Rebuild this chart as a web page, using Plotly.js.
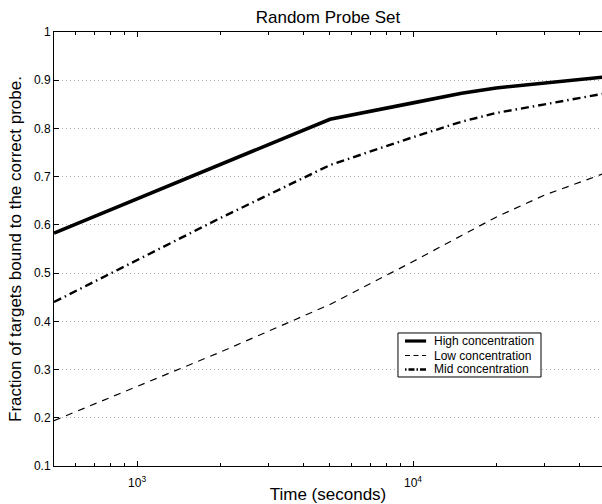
<!DOCTYPE html>
<html>
<head>
<meta charset="utf-8">
<script src="https://cdn.plot.ly/plotly-3.0.1.min.js"></script>
<style>
  html, body { margin: 0; padding: 0; background: #fff; overflow: hidden; }
  #chart { width: 602px; height: 504px; }
</style>
</head>
<body>
<div id="chart"></div>
<script>
// ---- data ----
const timeSeconds = [500, 1000, 2000, 5000, 10000, 15000, 20000, 30000, 50000];
const highConcentration = [0.583, 0.654, 0.725, 0.819, 0.853, 0.873, 0.884, 0.895, 0.907];
const lowConcentration  = [0.194, 0.265, 0.336, 0.435, 0.524, 0.578, 0.616, 0.662, 0.708];
const midConcentration  = [0.440, 0.527, 0.614, 0.724, 0.782, 0.814, 0.832, 0.850, 0.873];
const seriesNames = ["High concentration", "Low concentration", "Mid concentration"];
const yTickValues = [0.1, 0.2, 0.3, 0.4, 0.5, 0.6, 0.7, 0.8, 0.9, 1];
const yTickLabels = ["0.1", "0.2", "0.3", "0.4", "0.5", "0.6", "0.7", "0.8", "0.9", "1"];
const xTickValues = [1000, 10000];
const xTickLabels = ["10<sup>3</sup>", "10<sup>4</sup>"];
const xMinorTicks = [600, 700, 800, 900, 2000, 3000, 4000, 5000, 6000, 7000, 8000, 9000, 20000, 30000, 40000];

// ---- styles ----
const FONT = "Liberation Sans, Arial, Helvetica, sans-serif";
const styles = [
  {color: "#000", width: 3.6, dash: "solid"},
  {color: "#000", width: 1.2, dash: "7px,6px"},
  {color: "#000", width: 2.4, dash: "8px,4px,1.5px,4px"}
];
const seriesValues = [highConcentration, lowConcentration, midConcentration];

const traces = seriesValues.map((vals, i) => ({
  type: "scatter",
  mode: "lines",
  name: seriesNames[i],
  x: timeSeconds,
  y: vals,
  line: styles[i],
  showlegend: false,
  hoverinfo: "x+y+name"
}));

// custom compact legend (paper coordinates)
const legBox = {x0: 0.6277, x1: 0.8887, y0: 0.2051, y1: 0.3065};
const legRows = [0.2880, 0.2546, 0.2224];
const legDash = ["solid", "5px,3.5px", "1.5px,2px,6px,2px"];
const shapes = [{
  type: "rect", xref: "paper", yref: "paper",
  x0: legBox.x0, x1: legBox.x1, y0: legBox.y0, y1: legBox.y1,
  line: {color: "#000", width: 1}, fillcolor: "#fff", layer: "above"
}];
const annotations = [];
seriesNames.forEach((n, i) => {
  shapes.push({
    type: "line", xref: "paper", yref: "paper",
    x0: 0.6405, x1: 0.6790, y0: legRows[i], y1: legRows[i],
    line: {color: styles[i].color, width: Math.min(styles[i].width, 3.2), dash: legDash[i]},
    layer: "above"
  });
  annotations.push({
    xref: "paper", yref: "paper", x: 0.6898, y: legRows[i],
    xanchor: "left", yanchor: "middle", showarrow: false,
    text: n, font: {family: FONT, size: 12, color: "#000"}
  });
});

const layout = {
  width: 602, height: 504,
  margin: {l: 54, r: 0, t: 32, b: 38},
  paper_bgcolor: "#fff", plot_bgcolor: "#fff",
  font: {family: FONT, size: 12, color: "#000"},
  title: {
    text: "Random Probe Set",
    font: {family: FONT, size: 17, color: "#000"},
    x: 0.5, xref: "paper", y: 0.966, yref: "container", yanchor: "middle"
  },
  showlegend: false,
  xaxis: {
    type: "log",
    range: [Math.log10(500), Math.log10(48400)],
    tickmode: "array", tickvals: xTickValues, ticktext: xTickLabels,
    ticks: "inside", ticklen: 5, tickcolor: "#000", tickwidth: 1,
    ticklabelstandoff: 6,
    minor: {tickmode: "array", tickvals: xMinorTicks, ticks: "inside", ticklen: 3, tickcolor: "#000", showgrid: false},
    showline: true, linecolor: "#000", linewidth: 1, mirror: "ticks",
    showgrid: false, zeroline: false,
    tickfont: {family: FONT, size: 12, color: "#000"},
    title: {text: "Time (seconds)", font: {family: FONT, size: 17, color: "#000"}, standoff: 1}
  },
  yaxis: {
    range: [0.1, 1],
    tickmode: "array", tickvals: yTickValues, ticktext: yTickLabels,
    ticks: "inside", ticklen: 5, tickcolor: "#000",
    showline: true, linecolor: "#000", linewidth: 1, mirror: false,
    showgrid: true, gridcolor: "#aaa", gridwidth: 1, griddash: "1px,3px",
    zeroline: false,
    tickfont: {family: FONT, size: 12, color: "#000"},
    title: {text: "Fraction of targets bound to the correct probe.", font: {family: FONT, size: 17, color: "#000"}, standoff: 7}
  },
  shapes: shapes,
  annotations: annotations
};

Plotly.newPlot("chart", traces, layout, {displayModeBar: false, staticPlot: true});
</script>
</body>
</html>
